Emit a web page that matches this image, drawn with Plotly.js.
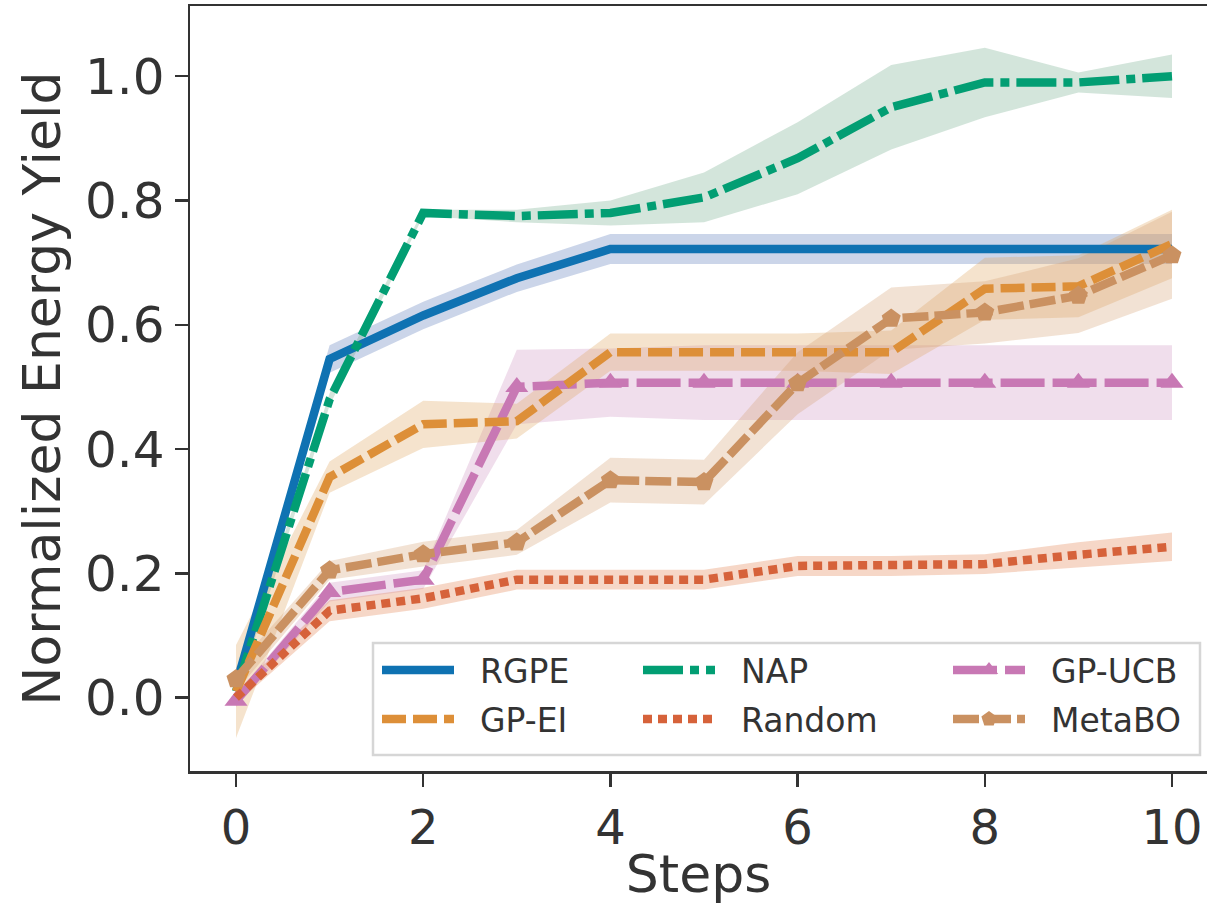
<!DOCTYPE html>
<html>
<head>
<meta charset="utf-8">
<script src="https://cdn.plot.ly/plotly-3.0.1.min.js"></script>
<style>
html,body{margin:0;padding:0;background:#fff;overflow:hidden;}
#chart{width:1207px;height:904px;}
</style>
</head>
<body>
<div id="chart"></div>
<script>
// ---- data ----
const steps = [0, 1, 2, 3, 4, 5, 6, 7, 8, 9, 10];

const rgpeMean   = [0.02, 0.545, 0.615, 0.675, 0.722, 0.722, 0.722, 0.722, 0.722, 0.722, 0.722];
const rgpeSpread = [0.01, 0.022, 0.022, 0.022, 0.024, 0.024, 0.024, 0.024, 0.024, 0.024, 0.024];

const napMean    = [0.01, 0.48, 0.78, 0.775, 0.78, 0.805, 0.868, 0.95, 0.99, 0.99, 1.0];
const napSpread  = [0.01, 0.01, 0.005, 0.01, 0.02, 0.04, 0.058, 0.068, 0.056, 0.016, 0.035];

const gpucbMean   = [-0.005, 0.17, 0.19, 0.5, 0.507, 0.507, 0.507, 0.507, 0.507, 0.507, 0.507];
const gpucbSpread = [0.01, 0.015, 0.015, 0.06, 0.055, 0.06, 0.06, 0.06, 0.06, 0.06, 0.06];

const gpeiMean   = [0.01, 0.355, 0.44, 0.445, 0.556, 0.556, 0.556, 0.556, 0.658, 0.662, 0.73];
const gpeiSpread = [0.075, 0.025, 0.038, 0.028, 0.03, 0.03, 0.03, 0.035, 0.05, 0.05, 0.055];

const randomMean   = [0.0, 0.14, 0.16, 0.19, 0.19, 0.19, 0.212, 0.212, 0.215, 0.23, 0.243];
const randomSpread = [0.01, 0.017, 0.017, 0.016, 0.016, 0.016, 0.016, 0.016, 0.016, 0.02, 0.023];

const metaboMean   = [0.03, 0.205, 0.231, 0.25, 0.35, 0.347, 0.506, 0.61, 0.62, 0.647, 0.712];
const metaboSpread = [0.02, 0.015, 0.02, 0.02, 0.036, 0.036, 0.05, 0.05, 0.05, 0.06, 0.07];

const xTicks = [0, 2, 4, 6, 8, 10];
const yTicks = [0.0, 0.2, 0.4, 0.6, 0.8, 1.0];
const yTickText = ['0.0', '0.2', '0.4', '0.6', '0.8', '1.0'];

// ---- styling ----
const FONT = 'DejaVu Sans, Verdana, sans-serif';
const TXT = '#333333';
const NB = '\u00a0\u00a0';
const series = [
  {name: 'RGPE',   mean: rgpeMean,   sd: rgpeSpread,   line: '#0f72b2', band: 'rgba(82,115,182,0.3)',  dash: 'solid',            marker: null,          legend: 'legend'},
  {name: 'NAP',    mean: napMean,    sd: napSpread,    line: '#029e73', band: 'rgba(108,168,135,0.3)', dash: '40px,7px,9px,7px', marker: null,          legend: 'legend2'},
  {name: 'GP-UCB', mean: gpucbMean,  sd: gpucbSpread,  line: '#c878b4', band: 'rgba(205,145,192,0.3)', dash: '44px,8px',         marker: 'triangle-up', legend: 'legend3'},
  {name: 'GP-EI',  mean: gpeiMean,   sd: gpeiSpread,   line: '#dd8f38', band: 'rgba(222,162,88,0.3)',  dash: '24px,7px',         marker: null,          legend: 'legend4'},
  {name: 'Random', mean: randomMean, sd: randomSpread, line: '#d6623a', band: 'rgba(224,124,70,0.3)',  dash: '9px,6px',          marker: null,          legend: 'legend5'},
  {name: 'MetaBO', mean: metaboMean, sd: metaboSpread, line: '#ca9161', band: 'rgba(212,158,112,0.3)', dash: '26px,6px',         marker: 'pentagon',    legend: 'legend6'}
];

const traces = [];
// uncertainty bands first (drawn under all lines)
series.forEach(s => {
  const up = s.mean.map((m, i) => m + s.sd[i]);
  const lo = s.mean.map((m, i) => m - s.sd[i]);
  traces.push({x: steps, y: up, type: 'scatter', mode: 'lines',
    line: {width: 0, shape: 'linear'}, showlegend: false, hoverinfo: 'skip'});
  traces.push({x: steps, y: lo, type: 'scatter', mode: 'lines', fill: 'tonexty',
    fillcolor: s.band, line: {width: 0, shape: 'linear'}, showlegend: false, hoverinfo: 'skip'});
});
// mean lines
series.forEach(s => {
  const t = {x: steps, y: s.mean, type: 'scatter', name: NB + s.name, legend: s.legend,
    mode: s.marker ? 'lines+markers' : 'lines',
    line: {color: s.line, width: 8.5, dash: s.dash, shape: 'linear'}};
  if (s.marker) t.marker = {symbol: s.marker, size: 20, color: s.line, line: {width: 0}};
  traces.push(t);
});

// plot area in pixels: left 190, right 1207, top 6, bottom 771
const L = 190, R = 1207, T = 6, B = 771;
const pw = R - L, ph = B - T;
const px = x => (x - L) / pw;
const py = y => (B - y) / ph;

const legendFont = {family: FONT, size: 33, color: TXT};
const legendBase = {bgcolor: 'rgba(0,0,0,0)', borderwidth: 0, font: legendFont,
  xanchor: 'left', yanchor: 'middle', itemwidth: 72, itemclick: false, itemdoubleclick: false};
const colX = [377, 638, 948];
const rowY = [670, 719];

const layout = {
  width: 1207, height: 904,
  margin: {l: L, r: 1207 - R, t: T, b: 904 - B, pad: 0},
  paper_bgcolor: '#ffffff', plot_bgcolor: '#ffffff',
  font: {family: FONT, color: TXT},
  xaxis: {
    range: [-0.4915, 10.374], tickvals: xTicks, showgrid: false, zeroline: false,
    showline: true, linecolor: TXT, linewidth: 2.5, mirror: true,
    ticks: 'outside', ticklen: 13, tickwidth: 2.5, tickcolor: TXT,
    tickfont: {family: FONT, size: 48, color: TXT},
    title: {text: 'Steps', font: {family: FONT, size: 52, color: TXT}, standoff: 8}
  },
  yaxis: {
    range: [-0.1179, 1.113], tickvals: yTicks, ticktext: yTickText, showgrid: false, zeroline: false,
    showline: true, linecolor: TXT, linewidth: 2.5, mirror: false,
    ticks: 'outside', ticklen: 13, tickwidth: 2.5, tickcolor: TXT,
    tickfont: {family: FONT, size: 50, color: TXT},
    title: {text: 'Normalized Energy Yield', font: {family: FONT, size: 52, color: TXT}, standoff: 8}
  },
  shapes: [{type: 'rect', xref: 'paper', yref: 'paper',
    x0: px(373), x1: px(1200), y0: py(755), y1: py(643),
    line: {color: '#d6d6d6', width: 2.5}, fillcolor: 'rgba(255,255,255,0.85)', layer: 'above'}],
  legend:  Object.assign({}, legendBase, {x: px(colX[0]), y: py(rowY[0])}),
  legend2: Object.assign({}, legendBase, {x: px(colX[1]), y: py(rowY[0])}),
  legend3: Object.assign({}, legendBase, {x: px(colX[2]), y: py(rowY[0])}),
  legend4: Object.assign({}, legendBase, {x: px(colX[0]), y: py(rowY[1])}),
  legend5: Object.assign({}, legendBase, {x: px(colX[1]), y: py(rowY[1])}),
  legend6: Object.assign({}, legendBase, {x: px(colX[2]), y: py(rowY[1])}),
  showlegend: true
};

Plotly.newPlot('chart', traces, layout, {displayModeBar: false, staticPlot: true});
</script>
</body>
</html>
